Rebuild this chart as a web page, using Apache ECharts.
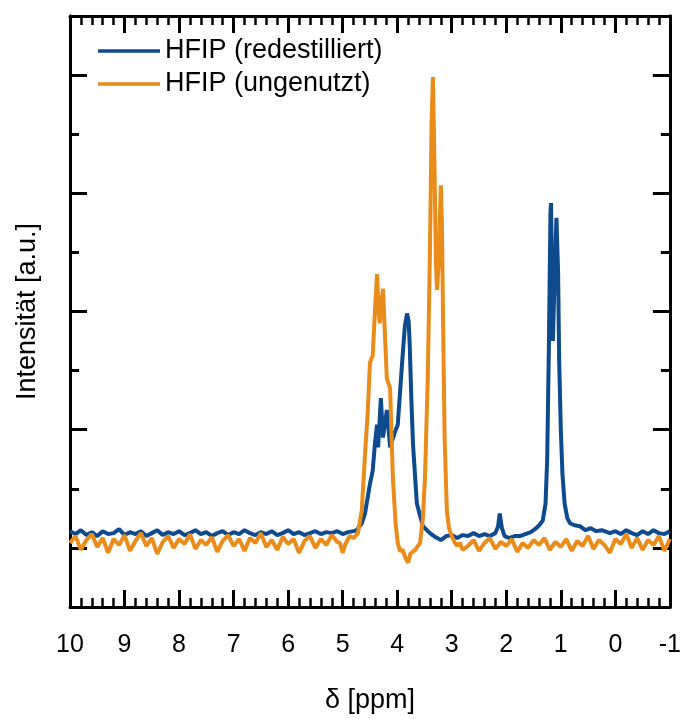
<!DOCTYPE html>
<html>
<head>
<meta charset="utf-8">
<script src="https://cdn.jsdelivr.net/npm/echarts@6/dist/echarts.min.js"></script>
<style>html,body{margin:0;padding:0;background:#fff}#c{width:684px;height:719px}</style>
</head>
<body>
<div id="c"></div>
<script>
// chemical shift (ppm) and intensity (a.u.)
const blueShift = [10.0,9.9,9.8,9.7,9.6,9.5,9.4,9.3,9.2,9.1,9.0,8.9,8.8,8.7,8.6,8.5,8.4,8.3,8.2,8.1,8.0,7.9,7.8,7.7,7.6,7.5,7.4,7.3,7.2,7.1,7.0,6.9,6.8,6.7,6.6,6.5,6.4,6.3,6.2,6.1,6.0,5.9,5.8,5.7,5.6,5.5,5.4,5.3,5.2,5.1,5.0,4.9,4.8,
  4.74,4.65,4.59,4.5,4.45,4.41,4.37,4.35,4.3,4.26,4.19,4.13,4.04,3.99,3.91,3.86,3.82,3.79,3.77,3.74,3.71,3.64,3.53,3.4,3.3,3.2,3.1,3.0,2.9,2.8,2.7,2.6,2.5,2.4,2.3,2.2,2.15,2.12,2.08,2.03,1.95,1.85,1.75,1.65,1.55,1.45,1.38,1.33,1.28,1.25,1.22,1.19,1.18,1.16,1.145,1.12,1.08,1.07,1.05,1.03,1.0,0.97,0.93,0.88,0.83,0.75,0.65,0.55,0.45,0.35,0.25,
  0.1,0.0,-0.1,-0.2,-0.3,-0.4,-0.5,-0.6,-0.7,-0.8,-0.9,-1.0];
const blueInt = [17,14,18,13,16,12,17,14,15,19,13,16,14,17,12,15,18,13,16,14,17,13,15,18,14,16,12,15,17,13,16,14,18,15,13,16,14,17,13,15,18,14,16,13,15,17,14,16,15,17,14,16,17,
  18,25,35,65,78,105,125,102,152,112,140,102,118,125,188,225,238,230,205,150,105,45,22,15,11,8,12,13,10,13,12,15,12,14,12,15,22,35,20,12,10,12,12,14,16,20,24,28,45,90,200,340,350,280,210,260,335,337,280,190,120,75,45,30,25,23,22,18,20,17,18,
  15,17,14,18,15,13,17,14,18,15,14,17];

const orangeShift = [10.0,9.9,9.8,9.7,9.6,9.5,9.4,9.3,9.2,9.1,9.0,8.9,8.8,8.7,8.6,8.5,8.4,8.3,8.2,8.1,8.0,7.9,7.8,7.7,7.6,7.5,7.4,7.3,7.2,7.1,7.0,6.9,6.8,6.7,6.6,6.5,6.4,6.3,6.2,6.1,6.0,5.9,5.8,5.7,5.6,5.5,5.4,5.3,5.2,5.1,
  5.05,5.0,4.95,4.87,4.8,4.72,4.65,4.59,4.54,4.5,4.45,4.41,4.37,4.34,4.32,4.29,4.26,4.22,4.19,4.13,4.08,4.03,3.99,3.95,3.9,3.85,3.8,3.76,3.73,3.67,3.62,3.58,3.53,3.49,3.44,3.4,3.37,3.345,3.32,3.29,3.27,3.24,3.2,3.18,3.16,3.13,3.09,3.05,3.0,2.95,2.9,2.85,2.8,2.7,
  2.6,2.5,2.4,2.3,2.2,2.1,2.0,1.9,1.8,1.7,1.6,1.5,1.4,1.3,1.2,1.1,1.0,0.9,0.8,0.7,0.6,0.5,0.4,0.3,0.2,0.1,0.0,-0.1,-0.2,-0.3,-0.4,-0.5,-0.6,-0.7,-0.8,-0.9,-1.0];
const orangeInt = [5,12,-2,8,14,1,10,-5,9,3,13,-3,7,15,2,10,-6,6,12,0,9,4,14,-1,8,3,11,-4,7,13,2,9,-3,10,5,15,1,8,-2,11,4,9,-5,7,12,0,9,3,13,6,
  5,-5,4,12,10,15,38,95,138,188,195,238,278,240,228,250,263,210,172,162,72,25,5,-3,-2,-10,-15,-6,-8,-2,2,5,30,72,172,300,430,478,400,290,262,290,368,330,235,110,38,20,12,6,2,5,-2,2,
  8,-3,5,10,-1,6,2,9,-4,5,0,8,3,10,-2,6,1,9,-3,7,2,12,-1,8,3,-5,9,4,14,0,10,-2,8,3,12,-3,9];

const xTickLabels = ['10','9','8','7','6','5','4','3','2','1','0','-1'];
const yMajorTicks = [0,120,240,360,480];
const yMinorTicks = [60,180,300,420];
const seriesNames = ['HFIP (redestilliert)','HFIP (ungenutzt)'];

const FONT = 'Liberation Sans, Arial, sans-serif';
const toPairs = (xs, ys) => xs.map((x, i) => [x, ys[i]]);

const chart = echarts.init(document.getElementById('c'), null, {renderer: 'canvas'});
const axisLine = {show: true, onZero: false, lineStyle: {color: '#000', width: 3}};
const yBase = {type: 'value', min: -60, max: 540, splitLine: {show: false}, axisLabel: {show: false}, axisLine: axisLine};
const xBase = {type: 'value', min: -1, max: 10, interval: 1, inverse: true, splitLine: {show: false},
  axisLine: axisLine,
  axisTick: {show: true, inside: true, length: 17, lineStyle: {color: '#000', width: 3}},
  minorTick: {show: true, splitNumber: 5, length: 9, lineStyle: {color: '#000', width: 2.5}}};

chart.setOption({
  animation: false,
  backgroundColor: '#fff',
  grid: {left: 70, right: 14, top: 16, bottom: 102, containLabel: false},
  legend: {
    orient: 'vertical', left: 93, top: 31, itemWidth: 62, itemHeight: 3.5, itemGap: 3, icon: 'rect',
    data: seriesNames,
    textStyle: {fontFamily: FONT, fontSize: 27, color: '#000', lineHeight: 30}
  },
  xAxis: [
    Object.assign({}, xBase, {position: 'bottom', name: 'δ [ppm]', nameLocation: 'middle', nameGap: 80,
      nameTextStyle: {fontFamily: FONT, fontSize: 27, color: '#000'},
      axisLabel: {show: true, margin: 26, fontFamily: FONT, fontSize: 25, color: '#000',
        formatter: v => xTickLabels[10 - Math.round(v)]}}),
    Object.assign({}, xBase, {position: 'top', axisLabel: {show: false}})
  ],
  yAxis: [
    Object.assign({}, yBase, {position: 'left', name: 'Intensität [a.u.]', nameLocation: 'middle', nameGap: 29,
      nameTextStyle: {fontFamily: FONT, fontSize: 27, color: '#000'},
      axisTick: {show: true, inside: true, length: 17, customValues: yMajorTicks, lineStyle: {color: '#000', width: 3}}}),
    Object.assign({}, yBase, {position: 'left', axisTick: {show: true, inside: true, length: 9, customValues: yMinorTicks, lineStyle: {color: '#000', width: 3}}}),
    Object.assign({}, yBase, {position: 'right', axisTick: {show: true, inside: true, length: 17, customValues: yMajorTicks, lineStyle: {color: '#000', width: 3}}}),
    Object.assign({}, yBase, {position: 'right', axisTick: {show: true, inside: true, length: 9, customValues: yMinorTicks, lineStyle: {color: '#000', width: 3}}})
  ],
  series: [
    {name: seriesNames[0], type: 'line', xAxisIndex: 0, yAxisIndex: 0, data: toPairs(blueShift, blueInt),
     showSymbol: false, symbol: 'none', color: '#0d4a8e', lineStyle: {width: 4, color: '#0d4a8e'}, z: 2},
    {name: seriesNames[1], type: 'line', xAxisIndex: 0, yAxisIndex: 0, data: toPairs(orangeShift, orangeInt),
     showSymbol: false, symbol: 'none', color: '#e98c1a', lineStyle: {width: 4, color: '#e98c1a'}, z: 3}
  ]
});
</script>
</body>
</html>
